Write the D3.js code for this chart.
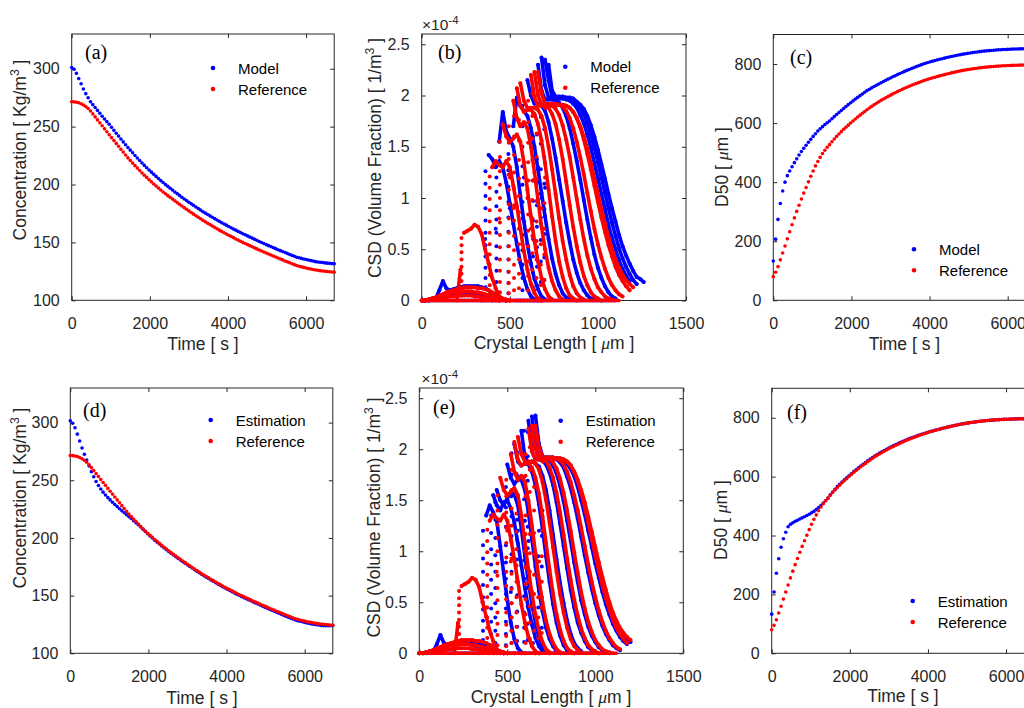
<!DOCTYPE html>
<html>
<head>
<meta charset="utf-8">
<script src="https://cdn.jsdelivr.net/npm/d3@7"></script>
<style>
  body { margin: 0; background: #fff; }
  svg text { white-space: pre; }
</style>
</head>
<body>
<script>
// ---- data ----
const sampleStep = 60;          // s between stored time samples
const csdStep = 20;             // um between stored CSD samples

const timeTicks = [0, 2000, 4000, 6000];
const concTicks = [100, 150, 200, 250, 300];
const d50Ticks = [0, 200, 400, 600, 800];
const lengthTicks = [0, 500, 1000, 1500];
const csdTicks = [0, 0.5, 1, 1.5, 2, 2.5];
const csdTickLabels = ['0', '0.5', '1', '1.5', '2', '2.5'];

// solute concentration [kg/m3]
const refConc = [271.5,271.4,271.1,270.6,269.8,268.7,267.3,265.6,263.5,
  261.0,258.4,255.8,253.3,250.7,248.1,245.6,243.0,
  240.5,238.0,235.5,233.0,230.5,228.0,225.5,223.0,
  220.7,218.5,216.3,214.2,212.1,210.0,208.0,206.0,
  204.1,202.3,200.5,198.7,197.0,195.3,193.6,192.0,
  190.4,188.9,187.4,185.9,184.4,182.9,181.4,180.0,
  178.6,177.2,175.8,174.4,173.0,171.7,170.4,169.0,
  167.8,166.6,165.4,164.2,163.0,161.8,160.6,159.5,
  158.4,157.3,156.2,155.2,154.1,153.0,152.0,151.0,
  150.0,149.1,148.1,147.2,146.3,145.3,144.4,143.5,
  142.6,141.7,140.9,140.0,139.1,138.2,137.4,136.5,
  135.7,134.9,134.0,133.2,132.4,131.6,130.8,130.0,
  129.4,128.9,128.4,127.9,127.4,127.0,126.6,126.2,
  125.9,125.6,125.3,125.1,124.9,124.7,124.5,124.3];
const modelConc = [301.0,299.5,296.0,291.5,287.0,282.5,278.5,275.0,271.5,
  269.0,266.5,264.0,261.5,259.0,256.6,254.3,252.0,
  249.4,246.8,244.3,241.8,239.3,236.8,234.4,232.0,
  229.7,227.4,225.1,222.9,220.7,218.6,216.5,214.5,
  212.6,210.7,208.8,207.0,205.2,203.4,201.7,200.0,
  198.4,196.8,195.2,193.6,192.1,190.6,189.0,187.5,
  186.1,184.7,183.3,182.0,180.6,179.2,177.9,176.5,
  175.3,174.1,172.9,171.7,170.5,169.3,168.2,167.0,
  165.9,164.9,163.8,162.7,161.6,160.6,159.5,158.5,
  157.5,156.6,155.6,154.6,153.7,152.7,151.8,150.8,
  149.9,149.0,148.1,147.2,146.4,145.5,144.6,143.7,
  142.9,142.1,141.3,140.5,139.6,138.8,138.0,137.2,
  136.7,136.2,135.7,135.2,134.8,134.3,133.9,133.4,
  133.1,132.8,132.6,132.3,132.1,131.9,131.7,131.5];
const estConc = [301.5,299.5,295.5,290.0,284.0,278.0,272.5,267.5,262.5,
  257.5,253.0,249.0,245.5,242.5,239.7,237.2,235.0,
  233.0,231.0,229.0,227.2,225.3,223.5,221.8,220.2,
  218.5,216.8,215.0,213.2,211.4,209.5,207.6,205.6,
  203.6,201.7,199.9,198.1,196.4,194.7,193.0,191.4,
  189.8,188.3,186.8,185.3,183.8,182.3,180.8,179.4,
  178.0,176.7,175.3,173.9,172.5,171.2,169.9,168.5,
  167.2,166.0,164.8,163.6,162.4,161.2,160.0,158.9,
  157.8,156.6,155.5,154.5,153.4,152.3,151.3,150.3,
  149.3,148.3,147.3,146.4,145.5,144.5,143.6,142.7,
  141.8,140.9,140.0,139.1,138.2,137.3,136.5,135.6,
  134.8,133.9,133.0,132.2,131.3,130.5,129.7,128.9,
  128.3,127.8,127.3,126.8,126.3,125.9,125.5,125.1,
  124.8,124.5,124.2,124.0,123.9,123.9,123.9,124.0];

// median crystal size D50 [um]
const refD50 = [80,95,114,137,160,184,208,232,256,
  279,301,322,343,363,382,401,420,
  438,455,470,484,497,508,518,527,
  537,546,555,563,571,579,586,593,
  600.2,607.2,614,620.6,627,633.2,639.2,645,
  651,656.7,662.1,667.3,672.3,677.1,681.7,686,
  690.4,694.7,698.8,702.8,706.7,710.5,714.3,718,
  721.5,724.9,728.2,731.3,734.3,737.2,740.1,743,
  745.7,748.3,750.8,753.2,755.5,757.7,759.9,762,
  764.1,766.1,768,769.9,771.7,773.5,775.3,777,
  778.5,779.9,781.2,782.5,783.7,784.8,785.9,787,
  788,788.9,789.7,790.5,791.2,791.9,792.5,793,
  793.5,794,794.4,794.8,795.1,795.4,795.7,796,
  796.2,796.4,796.5,796.6,796.7,796.8,796.9,797];
const modelD50 = [133,207,274,328,370,400,422,438,452,
  466,479,492,504,515,525,535,545,
  555,564,573,581,588,595,601,607,
  614.5,621.8,628.9,635.9,642.8,649.5,656.1,662.6,
  669,675.2,681.2,687.1,692.9,698.6,704.3,710,
  714.8,719.4,723.9,728.3,732.6,736.8,740.9,745,
  749,752.9,756.7,760.5,764.2,767.8,771.4,775,
  778.4,781.7,784.9,788,791.1,794.1,797.1,800,
  802.6,805.1,807.5,809.8,812,814.1,816.1,818,
  820,821.9,823.7,825.5,827.2,828.9,830.5,832,
  833.5,834.9,836.2,837.5,838.7,839.8,840.9,842,
  842.9,843.8,844.6,845.3,846,846.7,847.4,848,
  848.5,849,849.4,849.8,850.2,850.5,850.8,851,
  851.2,851.4,851.5,851.6,851.7,851.8,851.9,852];
const estD50 = [133,208,272,321,360,389,411,430,438,
  443,448,452,456,460,464,468,472,
  477,482,488,495,502,510,518,527,
  538,548,557,566,574,582,589,596,
  603,610,617,623.5,630,636,642,648,
  654,659.5,665,670,675,680,684.5,689,
  693.2,697.4,701.5,705.4,709.2,712.9,716.5,720,
  723.3,726.6,729.8,732.8,735.7,738.5,741.3,744,
  746.5,749,751.4,753.7,756,758.1,760.2,762.2,
  764.2,766.1,768,769.9,771.7,773.5,775.3,777,
  778.5,779.9,781.2,782.5,783.7,784.8,785.9,787,
  788,788.9,789.7,790.5,791.2,791.9,792.5,793,
  793.5,794,794.4,794.8,795.1,795.4,795.7,796,
  796.2,796.4,796.5,796.6,796.7,796.8,796.9,797];

// CSD snapshots (x1e-4): body from `start` um, one value per csdStep;
// `rise` = the near-vertical column of samples on the left edge, at `riseL` um
const refCsd = [
  {start: 0, vals: [0,0,0.01,0.01,0.02,0.02,0.03,0.03,0.04,0.04,0.05,0.05,0.05,0.05,0.05,0.04,0.04,0.03,0.03,0.02,0.01,0.01,0]},
  {start: 0, vals: [0,0,0.01,0.02,0.03,0.04,0.05,0.06,0.07,0.08,0.08,0.09,0.09,0.09,0.09,0.08,0.08,0.07,0.06,0.05,0.04,0.03,0.02,0.01,0]},
  {start: 0, vals: [0,0,0.01,0.02,0.03,0.05,0.06,0.08,0.09,0.10,0.11,0.12,0.13,0.13,0.13,0.13,0.12,0.12,0.11,0.10,0.08,0.06,0.04,0.02,0.01,0]},
  {start: 200, vals: [0,0.30,0.66,0.68,0.70,0.74,0.72,0.65,0.50,0.36,0.22,0.12,0.04,0.01,0],
   riseL: 226, rise: [0.05,0.12,0.19,0.26,0.33,0.40,0.47,0.54,0.61]},
  {start: 360, vals: [0,0.45,1.30,1.36,1.32,1.30,1.36,1.30,1.12,0.92,0.70,0.48,0.30,0.16,0.07,0.02,0],
   riseL: 386, rise: [0.06,0.15,0.25,0.35,0.45,0.55,0.66,0.77,0.88,0.99,1.10,1.21]},
  {start: 420, vals: [0,0.80,1.72,1.60,1.55,1.58,1.62,1.55,1.35,1.08,0.82,0.58,0.38,0.22,0.11,0.04,0.01],
   riseL: 444, rise: [0.08,0.18,0.29,0.40,0.52,0.64,0.76,0.88,1.00,1.13,1.26,1.40,1.55]},
  {start: 480, vals: [0,1.20,1.95,1.78,1.70,1.74,1.68,1.50,1.25,0.98,0.72,0.50,0.32,0.19,0.10,0.04,0.01],
   riseL: 494, rise: [0.07,0.17,0.28,0.40,0.53,0.66,0.80,0.94,1.08,1.23,1.38,1.54,1.70]},
  {start: 500, vals: [0,0.90,2.07,1.90,1.84,1.86,1.86,1.82,1.72,1.56,1.34,1.08,0.82,0.58,0.38,0.23,0.12,0.05,0.02,0],
   riseL: 524, rise: [0.10,0.22,0.35,0.49,0.63,0.78,0.93,1.09,1.25,1.42,1.60,1.80]},
  {start: 540, vals: [0,2.12,1.95,1.88,1.88,1.88,1.86,1.80,1.68,1.50,1.28,1.04,0.80,0.58,0.40,0.25,0.14,0.07,0.03,0.01],
   riseL: 552, rise: [0.12,0.26,0.40,0.55,0.70,0.86,1.02,1.19,1.37,1.56,1.76,1.96]},
  {start: 580, vals: [0,1.00,2.20,1.98,1.90,1.90,1.90,1.88,1.82,1.72,1.57,1.38,1.16,0.93,0.72,0.53,0.37,0.24,0.15,0.08,0.04,0.02,0],
   riseL: 604, rise: [0.10,0.24,0.38,0.53,0.68,0.84,1.00,1.17,1.35,1.54,1.74,1.95]},
  {start: 600, vals: [0,0.70,2.23,2.00,1.91,1.91,1.91,1.90,1.87,1.81,1.71,1.57,1.40,1.20,0.99,0.79,0.60,0.44,0.31,0.21,0.13,0.08,0.04,0.02,0.01],
   riseL: 628, rise: [0.14,0.30,0.46,0.63,0.80,0.98,1.17,1.37,1.58,1.80,2.02]},
  {start: 640, vals: [0.10,2.23,2.02,1.92,1.92,1.92,1.92,1.91,1.89,1.85,1.78,1.68,1.55,1.40,1.23,1.05,0.87,0.70,0.55,0.42,0.31,0.22,0.15,0.10,0.06,0.04],
   riseL: 652, rise: [0.22,0.40,0.58,0.77,0.97,1.18,1.40,1.63,1.87]},
  {start: 660, vals: [0,0.90,1.88,1.90,1.91,1.91,1.91,1.91,1.90,1.88,1.84,1.78,1.69,1.57,1.43,1.28,1.12,0.96,0.81,0.67,0.54,0.43,0.33,0.25,0.19,0.14,0.10],
   riseL: 676, rise: [0.15,0.35,0.55,0.75]},
  {start: 680, vals: [0,1.20,1.90,1.91,1.91,1.91,1.91,1.90,1.88,1.84,1.78,1.70,1.60,1.48,1.34,1.19,1.04,0.89,0.75,0.62,0.50,0.40,0.32,0.25,0.20,0.16,0.13],
   riseL: 696, rise: [0.20,0.45,0.70,0.95]}
];
const modelCsd = [
  {start: 0, vals: [0,0,0.01,0.02,0.03,0.04,0.05,0.06,0.07,0.07,0.08,0.08,0.08,0.08,0.08,0.07,0.06,0.05,0.04,0.03,0.02,0.01,0]},
  {start: 0, vals: [0,0,0,0.01,0.02,0.10,0.19,0.12,0.10,0.11,0.12,0.13,0.14,0.14,0.14,0.14,0.14,0.13,0.12,0.10,0.07,0.04,0.02,0.01,0]},
  {start: 340, vals: [0,0.60,1.42,1.38,1.30,1.36,1.30,1.15,0.95,0.75,0.55,0.37,0.22,0.11,0.04,0.01],
   riseL: 362, rise: [0.05,0.13,0.22,0.32,0.43,0.54,0.66,0.78,0.90,1.02,1.14,1.26]},
  {start: 400, vals: [0,0.70,1.55,1.84,1.65,1.58,1.50,1.30,1.02,0.77,0.55,0.36,0.21,0.11,0.04,0.01],
   riseL: 424, rise: [0.08,0.18,0.29,0.41,0.53,0.66,0.79,0.92,1.06,1.20,1.35]},
  {start: 480, vals: [0,0.90,1.70,1.98,1.90,1.85,1.80,1.68,1.50,1.28,1.05,0.82,0.60,0.41,0.26,0.15,0.07,0.03,0.01],
   riseL: 492, rise: [0.07,0.17,0.28,0.40,0.53,0.67,0.81,0.96,1.11,1.27,1.43,1.60]},
  {start: 560, vals: [0,1.20,2.15,2.00,1.92,1.92,1.90,1.85,1.74,1.58,1.39,1.18,0.97,0.76,0.57,0.40,0.27,0.17,0.10,0.05,0.02,0.01],
   riseL: 572, rise: [0.10,0.22,0.35,0.49,0.64,0.80,0.96,1.13,1.31,1.50,1.70,1.90]},
  {start: 620, vals: [0,1.40,2.30,2.05,1.96,1.96,1.96,1.95,1.93,1.88,1.80,1.68,1.53,1.36,1.18,0.98,0.79,0.61,0.45,0.32,0.22,0.14,0.08,0.04,0.02],
   riseL: 632, rise: [0.12,0.27,0.43,0.60,0.78,0.97,1.17,1.38,1.60,1.83,2.06]},
  {start: 640, vals: [0,1.30,2.37,2.10,1.98,1.97,1.97,1.97,1.97,1.96,1.95,1.92,1.88,1.81,1.73,1.62,1.49,1.34,1.19,1.04,0.89,0.74,0.61,0.50,0.39,0.31,0.24,0.19],
   riseL: 654, rise: [0.15,0.33,0.52,0.72,0.93,1.15,1.38,1.62,1.87,2.12]},
  {start: 660, vals: [0,1.00,2.35,2.15,1.99,1.98,1.98,1.98,1.97,1.96,1.95,1.92,1.88,1.82,1.73,1.62,1.49,1.35,1.20,1.05,0.90,0.76,0.63,0.51,0.41,0.33,0.26,0.20,0.16],
   riseL: 676, rise: [0.18,0.38,0.59,0.81,1.04,1.28,1.53,1.79,2.05]},
  {start: 680, vals: [0,1.10,2.30,2.05,1.99,1.99,1.99,1.98,1.98,1.97,1.94,1.91,1.87,1.80,1.71,1.60,1.47,1.33,1.19,1.04,0.90,0.77,0.64,0.53,0.44,0.36,0.29,0.23,0.21,0.18],
   riseL: 696, rise: [0.20,0.42,0.65,0.89,1.14,1.40,1.67,1.95]}
];
const estCsd = [
  {start: 0, vals: [0,0,0.01,0.02,0.03,0.04,0.05,0.06,0.07,0.08,0.08,0.09,0.09,0.09,0.09,0.08,0.07,0.06,0.05,0.04,0.03,0.02,0.01,0]},
  {start: 0, vals: [0,0,0,0.01,0.02,0.09,0.18,0.10,0.08,0.09,0.10,0.10,0.11,0.11,0.11,0.11,0.11,0.10,0.09,0.07,0.05,0.03,0.02,0.01,0]},
  {start: 340, vals: [0,0.50,1.35,1.45,1.38,1.30,1.05,0.78,0.52,0.30,0.14,0.05,0.01],
   riseL: 362, rise: [0.05,0.13,0.22,0.32,0.43,0.55,0.67,0.80,0.93,1.06,1.20]},
  {start: 400, vals: [0,1.55,1.45,1.40,1.48,1.50,1.42,1.28,1.08,0.86,0.64,0.44,0.28,0.15,0.07,0.02],
   riseL: 408, rise: [0.08,0.19,0.31,0.44,0.58,0.72,0.87,1.02,1.18,1.35]},
  {start: 420, vals: [0,1.60,1.50,1.45,1.52,1.58,1.56,1.45,1.22,0.95,0.70,0.48,0.30,0.16,0.07,0.02,0],
   riseL: 432, rise: [0.10,0.22,0.35,0.49,0.64,0.80,0.96,1.13,1.31,1.48]},
  {start: 480, vals: [0,1.85,1.72,1.66,1.70,1.70,1.60,1.38,1.12,0.85,0.61,0.41,0.25,0.14,0.07,0.02,0],
   riseL: 492, rise: [0.08,0.19,0.31,0.44,0.58,0.73,0.89,1.06,1.24,1.43,1.63]},
  {start: 500, vals: [0,0.60,2.05,1.88,1.84,1.86,1.85,1.78,1.65,1.46,1.22,0.95,0.70,0.48,0.30,0.17,0.08,0.03,0.01,0],
   riseL: 524, rise: [0.10,0.22,0.35,0.49,0.64,0.80,0.97,1.15,1.34,1.54,1.75,1.96]},
  {start: 540, vals: [0,1.20,2.18,1.92,1.87,1.88,1.86,1.83,1.74,1.60,1.40,1.16,0.92,0.69,0.49,0.32,0.19,0.10,0.05,0.02],
   riseL: 556, rise: [0.12,0.26,0.41,0.57,0.74,0.92,1.11,1.31,1.52,1.74,1.97]},
  {start: 580, vals: [0,1.30,2.28,1.98,1.90,1.90,1.89,1.85,1.77,1.65,1.48,1.27,1.05,0.83,0.62,0.45,0.30,0.20,0.12,0.06,0.03,0.01,0],
   riseL: 596, rise: [0.11,0.25,0.40,0.56,0.73,0.91,1.10,1.30,1.51,1.73,1.96,2.18]},
  {start: 600, vals: [0,1.10,2.32,2.02,1.91,1.91,1.91,1.89,1.84,1.76,1.64,1.49,1.30,1.10,0.89,0.70,0.52,0.38,0.26,0.17,0.11,0.06,0.03,0.01,0],
   riseL: 616, rise: [0.13,0.29,0.46,0.64,0.83,1.03,1.24,1.46,1.69,1.93,2.17]},
  {start: 640, vals: [0.60,2.33,2.05,1.93,1.92,1.92,1.92,1.90,1.87,1.82,1.73,1.62,1.48,1.32,1.14,0.96,0.79,0.63,0.49,0.37,0.27,0.19,0.13,0.08,0.05,0.03],
   riseL: 646, rise: [0.10,0.26,0.43]},
  {start: 660, vals: [0,1.20,1.90,1.91,1.91,1.91,1.91,1.90,1.89,1.86,1.81,1.74,1.63,1.50,1.36,1.20,1.04,0.88,0.74,0.60,0.48,0.38,0.29,0.22,0.16,0.12,0.09],
   riseL: 676, rise: [0.20,0.45,0.70,0.95]},
  {start: 680, vals: [0,1.40,1.91,1.91,1.91,1.91,1.91,1.89,1.86,1.81,1.74,1.65,1.54,1.41,1.27,1.12,0.97,0.82,0.68,0.56,0.45,0.36,0.28,0.22,0.17,0.14,0.11],
   riseL: 696, rise: [0.25,0.55,0.85,1.15]}
];
// every snapshot is zero on the rest of the length grid
const refCsdGridEnd = 1120, modelCsdGridEnd = 1100, estCsdGridEnd = 1100;

// ---- drawing ----
const BLUE = '#0000ff', RED = '#ff0000', INK = '#262626';
const SANS = '"Liberation Sans", Arial, Helvetica, sans-serif';
const SERIF = '"Liberation Serif", "Times New Roman", serif';

const svg = d3.select('body').append('svg')
  .attr('width', 1024).attr('height', 708)
  .style('background', '#fff');

function makeFrame(p) {
  const g = svg.append('g').attr('transform', `translate(${p.left},${p.top})`);
  const x = d3.scaleLinear().domain(p.xDomain).range([0, p.w]);
  const y = d3.scaleLinear().domain(p.yDomain).range([p.h, 0]);
  const tick = 4;

  g.append('g').attr('class', 'axis').attr('transform', `translate(0,${p.h})`)
    .call(d3.axisBottom(x).tickValues(p.xTicks).tickFormat(d => String(d))
      .tickSizeInner(-tick).tickSizeOuter(0).tickPadding(17));
  g.append('g').attr('class', 'axis')
    .call(d3.axisLeft(y).tickValues(p.yTicks).tickFormat(p.yFormat || (d => String(d)))
      .tickSizeInner(-tick).tickSizeOuter(0).tickPadding(12));
  g.append('g').attr('class', 'axis')
    .call(d3.axisTop(x).tickValues(p.xTicks).tickFormat('').tickSizeInner(-tick).tickSizeOuter(0));
  g.append('g').attr('class', 'axis').attr('transform', `translate(${p.w},0)`)
    .call(d3.axisRight(y).tickValues(p.yTicks).tickFormat('').tickSizeInner(-tick).tickSizeOuter(0));

  g.selectAll('.axis .domain').remove();
  g.selectAll('.axis line').attr('stroke', INK);
  g.selectAll('.axis text').attr('fill', INK).attr('font-size', 16).attr('font-family', SANS);

  g.append('rect').attr('width', p.w).attr('height', p.h)
    .attr('fill', 'none').attr('stroke', INK).attr('stroke-width', 1);

  return { g, x, y };
}

// label pieces: [text, kind] with kind n / sup / mu
function addRichText(sel, parts, size) {
  parts.forEach(([txt, kind], i) => {
    const t = sel.append('tspan').text(txt);
    if (kind === 'sup') t.attr('font-size', size * 0.7).attr('dy', -size * 0.4);
    else if (kind === 'mu') t.attr('font-family', SERIF).attr('font-style', 'italic');
    if (i > 0 && parts[i - 1][1] === 'sup') t.attr('dy', size * 0.4);
  });
}

function yLabel(x, cy, parts) {
  const t = svg.append('text')
    .attr('transform', `translate(${x},${cy}) rotate(-90)`)
    .attr('text-anchor', 'middle')
    .attr('font-family', SANS).attr('font-size', 17.5).attr('fill', INK);
  addRichText(t, parts, 17.5);
}

function xLabel(cx, y, parts) {
  const t = svg.append('text')
    .attr('x', cx).attr('y', y)
    .attr('text-anchor', 'middle')
    .attr('font-family', SANS).attr('font-size', 17.5).attr('fill', INK);
  addRichText(t, parts, 17.5);
}

function panelLetter(x, y, s) {
  svg.append('text').attr('x', x).attr('y', y)
    .attr('font-family', SERIF).attr('font-size', 20).attr('fill', '#000').text(s);
}

function legend(lx, ly, entries) {
  entries.forEach((e, i) => {
    svg.append('circle').attr('cx', lx).attr('cy', ly + i * 21).attr('r', 2.3).attr('fill', e.color);
    svg.append('text').attr('x', lx + 25).attr('y', ly + i * 21 + 5.5)
      .attr('font-family', SANS).attr('font-size', 15).attr('fill', '#000').text(e.label);
  });
}

function exponent(x, y) {
  const t = svg.append('text').attr('x', x).attr('y', y)
    .attr('font-family', SANS).attr('font-size', 15.5).attr('fill', INK);
  t.append('tspan').text('\u00d710');
  t.append('tspan').attr('font-size', 11.5).attr('dy', -6).text('-4');
}

function drawDots(f, vals, color) {
  f.g.append('g').selectAll('circle').data(vals).join('circle')
    .attr('cx', (d, i) => f.x(i * sampleStep))
    .attr('cy', d => f.y(d))
    .attr('r', 1.8)
    .attr('fill', color);
}

function drawCsd(f, curves, color, gridEnd) {
  const layer = f.g.append('g');
  const line = d3.line().x(d => f.x(d[0])).y(d => f.y(d[1]));
  const stroke = s => s.attr('fill', 'none').attr('stroke', color).attr('stroke-width', 3.6)
    .attr('stroke-linejoin', 'round').attr('stroke-linecap', 'round');

  // zero part of the distributions along the length grid
  layer.append('path').attr('d', line([[0, 0], [gridEnd, 0]])).call(stroke);

  curves.forEach(c => {
    const pts = c.vals.map((v, i) => [c.start + i * csdStep, v]);
    if (c.rise) c.rise.forEach(v => pts.push([c.riseL, v]));
    const body = pts.slice(0, c.vals.length);
    // dense stretches read as a solid band, steep jumps stay as loose dots
    const runs = [];
    let run = [body[0]];
    for (let i = 1; i < body.length; i++) {
      if (Math.abs(body[i][1] - body[i - 1][1]) <= 0.3) run.push(body[i]);
      else { runs.push(run); run = [body[i]]; }
    }
    runs.push(run);
    runs.filter(r => r.length > 1).forEach(r => layer.append('path').attr('d', line(r)).call(stroke));
    layer.append('g').selectAll('circle').data(pts).join('circle')
      .attr('cx', d => f.x(d[0])).attr('cy', d => f.y(d[1]))
      .attr('r', 2).attr('fill', color);
  });
}

const tMax = (refConc.length - 1) * sampleStep;
const csdFormat = d => csdTickLabels[csdTicks.indexOf(d)];

const concLabel = [['Concentration [ Kg/m', 'n'], ['3', 'sup'], [' ]', 'n']];
const csdLabel = [['CSD (Volume Fraction) [ 1/m', 'n'], ['3', 'sup'], [' ]', 'n']];
const d50Label = [['D50 [ ', 'n'], ['\u03bc', 'mu'], ['m ]', 'n']];
const lengthLabel = [['Crystal Length [ ', 'n'], ['\u03bc', 'mu'], ['m ]', 'n']];
const timeLabel = [['Time [ s ]', 'n']];

// (a)
const fa = makeFrame({ left: 71.7, top: 34, w: 262.5, h: 266.3, xDomain: [0, tMax], yDomain: [100, 330], xTicks: timeTicks, yTicks: concTicks });
drawDots(fa, modelConc, BLUE);
drawDots(fa, refConc, RED);
yLabel(26, 150, concLabel);
xLabel(203, 350, timeLabel);
panelLetter(85, 59, '(a)');
legend(213, 68, [{ label: 'Model', color: BLUE }, { label: 'Reference', color: RED }]);

// (b)
const fb = makeFrame({ left: 421.7, top: 34, w: 264.3, h: 266.5, xDomain: [0, 1500], yDomain: [0, 2.6], xTicks: lengthTicks, yTicks: csdTicks, yFormat: csdFormat });
drawCsd(fb, modelCsd, BLUE, modelCsdGridEnd);
drawCsd(fb, refCsd, RED, refCsdGridEnd);
yLabel(381, 158, csdLabel);
xLabel(554, 349, lengthLabel);
panelLetter(438, 59, '(b)');
legend(565.3, 66.7, [{ label: 'Model', color: BLUE }, { label: 'Reference', color: RED }]);
exponent(422, 29.5);

// (c)
const fc = makeFrame({ left: 773.3, top: 34.5, w: 262.5, h: 265.8, xDomain: [0, tMax], yDomain: [0, 900], xTicks: timeTicks, yTicks: d50Ticks });
drawDots(fc, modelD50, BLUE);
drawDots(fc, refD50, RED);
yLabel(728, 167, d50Label);
xLabel(904.5, 350, timeLabel);
panelLetter(790, 64, '(c)');
legend(914, 249.3, [{ label: 'Model', color: BLUE }, { label: 'Reference', color: RED }]);

// (d)
const fd = makeFrame({ left: 70.3, top: 388, w: 262.5, h: 265.3, xDomain: [0, tMax], yDomain: [100, 330], xTicks: timeTicks, yTicks: concTicks });
drawDots(fd, estConc, BLUE);
drawDots(fd, refConc, RED);
yLabel(26, 498, concLabel);
xLabel(202, 704, timeLabel);
panelLetter(83, 417, '(d)');
legend(210.7, 420, [{ label: 'Estimation', color: BLUE }, { label: 'Reference', color: RED }]);

// (e)
const fe = makeFrame({ left: 419.3, top: 388, w: 264, h: 265.3, xDomain: [0, 1500], yDomain: [0, 2.6], xTicks: lengthTicks, yTicks: csdTicks, yFormat: csdFormat });
drawCsd(fe, estCsd, BLUE, estCsdGridEnd);
drawCsd(fe, refCsd, RED, refCsdGridEnd);
yLabel(380, 517.5, csdLabel);
xLabel(551, 703, lengthLabel);
panelLetter(433, 414, '(e)');
legend(560.7, 420.7, [{ label: 'Estimation', color: BLUE }, { label: 'Reference', color: RED }]);
exponent(421.5, 384);

// (f)
const ff = makeFrame({ left: 771.7, top: 388.3, w: 262.5, h: 265, xDomain: [0, tMax], yDomain: [0, 900], xTicks: timeTicks, yTicks: d50Ticks });
drawDots(ff, estD50, BLUE);
drawDots(ff, refD50, RED);
yLabel(727, 520, d50Label);
xLabel(903, 702, timeLabel);
panelLetter(787, 419, '(f)');
legend(912.7, 601, [{ label: 'Estimation', color: BLUE }, { label: 'Reference', color: RED }]);
</script>
</body>
</html>
